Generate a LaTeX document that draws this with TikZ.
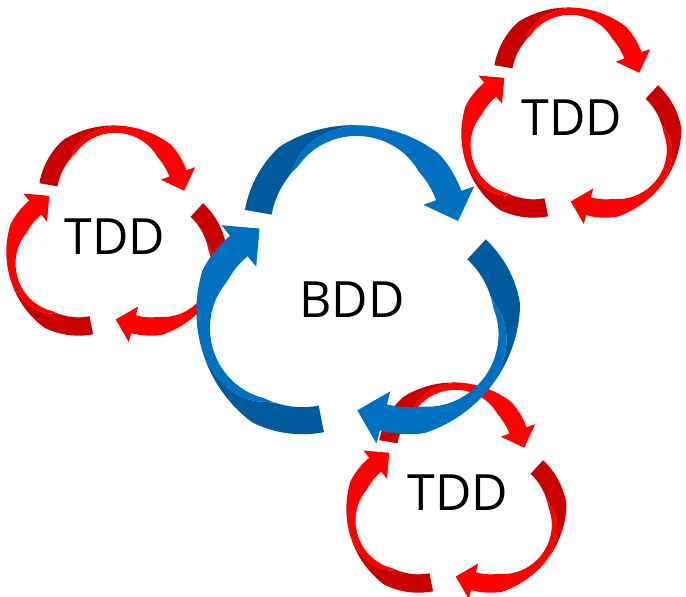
\documentclass[tikz,border=0pt]{standalone}
\usepackage{fontspec}
\setmainfont{Open Sans}
\definecolor{redlight}{HTML}{FF0000}
\definecolor{reddark}{HTML}{C80000}
\definecolor{bluelight}{HTML}{0070C0}
\definecolor{bluedark}{HTML}{005A9E}

% one twisted arrow round a lobe: #1 lobe centre, #2 scale,
% #3 start angle, #4 end angle, #5 back colour, #6 front colour
\newcommand{\lobearrow}[6]{%
  \pgfmathsetmacro{\arcR}{66*#2}%
  \pgfmathsetmacro{\arcW}{18*#2}%
  \begin{scope}[shift={#1}, declare function={
      aa(\s)=#3+(#4-(#3))*\s;
      ww(\s)=\arcW*(1-0.6*max(0,1-(\s-0.55)*(\s-0.55)/0.09));
      tt(\s)=min(1,max(0,(\s-0.2)/0.35));
      ro(\s)=\arcR+ww(\s)/2;
      ri(\s)=\arcR-ww(\s)/2;
      rb(\s)=ri(\s)+ww(\s)*tt(\s);}]
    \fill[#5] plot[domain=0:0.55,samples=30] ({aa(\x)}:{ro(\x)})
      -- plot[domain=0.55:0,samples=30] ({aa(\x)}:{rb(\x)}) -- cycle;
    \fill[#6] plot[domain=0:1,samples=60] ({aa(\x)}:{rb(\x)})
      -- (#4:{\arcR+\arcW})
      -- ({\arcR*cos(#4)+\arcW*cos(#4-90)},{\arcR*sin(#4)+\arcW*sin(#4-90)})
      -- (#4:{\arcR-\arcW})
      -- plot[domain=1:0,samples=60] ({aa(\x)}:{ri(\x)}) -- cycle;
  \end{scope}}

% three arrows round the centre #1
\newcommand{\arrowcycle}[4]{%
  \begin{scope}[shift={#1}]
    \pgfmathsetmacro{\lobeD}{41*#2}
    \lobearrow{(90:\lobeD)}{#2}{170}{20}{#3}{#4}
    \lobearrow{(-30:\lobeD)}{#2}{47}{-105}{#3}{#4}
    \lobearrow{(210:\lobeD)}{#2}{-79}{-230}{#3}{#4}
  \end{scope}}

\begin{document}
\begin{tikzpicture}[x=1pt, y=1pt]

  \tikzstyle{cyclename} = [font=\fontsize{50}{60}\selectfont, inner sep=0pt]

  \useasboundingbox (0,0) rectangle (686,597);

  \arrowcycle{(114.7,358.7)}{1.02}{reddark}{redlight}
  \arrowcycle{(569.7,476.7)}{1.02}{reddark}{redlight}
  \arrowcycle{(454.7,101.7)}{1.02}{reddark}{redlight}

  \arrowcycle{(355.75,306)}{1.5}{bluedark}{bluelight}

  \node[cyclename] (tddleft) at (115,360) {TDD};
  \node[cyclename] (tddtop) at (572,479) {TDD};
  \node[cyclename] (tddbottom) at (458,104) {TDD};
  \node[cyclename] (bdd) at (352,297) {BDD};

\end{tikzpicture}
\end{document}
